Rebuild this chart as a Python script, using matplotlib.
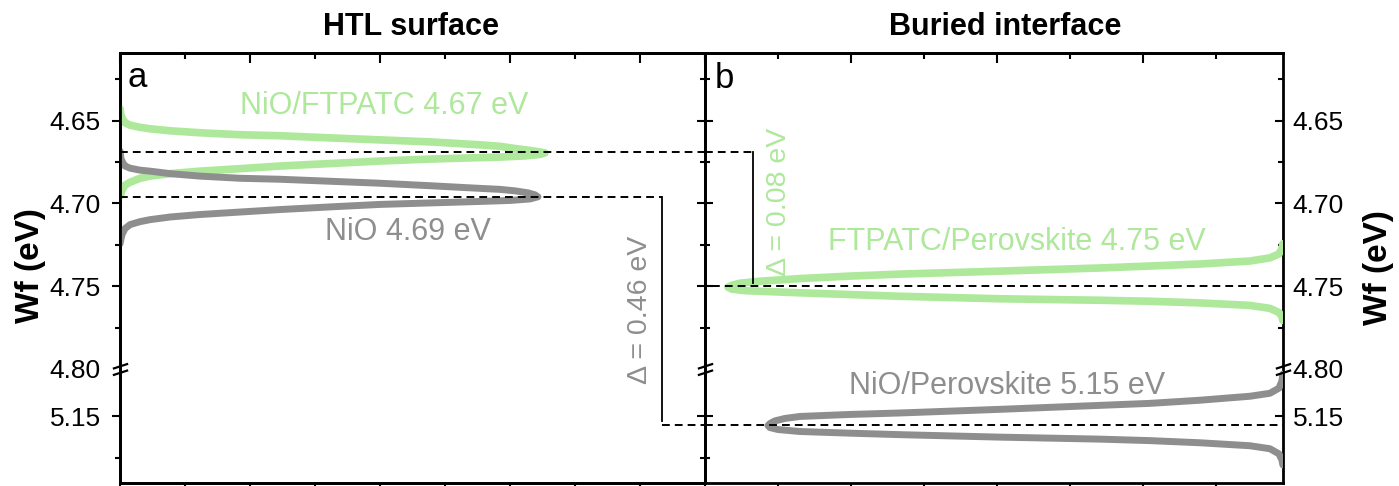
import numpy as np
import matplotlib
matplotlib.use("Agg")
import matplotlib.pyplot as plt
from matplotlib.path import Path
from matplotlib.ticker import FixedLocator, MultipleLocator, FormatStrFormatter
from matplotlib.transforms import blended_transform_factory

plt.rcParams["font.family"] = ["Liberation Sans", "DejaVu Sans"]

GREEN = "#aee89b"
GRAY = "#8e8e8e"

# --- HTL surface (panel a): sorted Wf maps, x = arbitrary count axis ---
htl_ftpatc_x = [0.000, 0.004, 0.008, 0.023, 0.038, 0.077, 0.154, 0.231, 0.385, 0.615,
                0.923, 1.231, 1.615, 2.000, 2.385, 2.769, 2.923, 3.038, 3.154, 3.231,
                3.269,
                3.231, 3.115, 2.923, 2.769, 2.385, 2.000, 1.615, 1.231, 0.923, 0.615,
                0.385, 0.231, 0.154, 0.077, 0.038, 0.015, 0.008, 0.000]
htl_ftpatc_wf = [4.6427, 4.6451, 4.6470, 4.6494, 4.6512, 4.6527, 4.6540, 4.6549, 4.6561, 4.6573,
                 4.6585, 4.6591, 4.6604, 4.6616, 4.6628, 4.6646, 4.6655, 4.6668, 4.6680, 4.6689,
                 4.6695,
                 4.6704, 4.6713, 4.6720, 4.6723, 4.6732, 4.6744, 4.6759, 4.6774, 4.6790, 4.6805,
                 4.6820, 4.6835, 4.6848, 4.6872, 4.6890, 4.6921, 4.6939, 4.6957]

htl_nio_x = [0.000, 0.004, 0.008, 0.023, 0.038, 0.077, 0.154, 0.231, 0.385, 0.615,
             0.923, 1.231, 1.615, 2.000, 2.385, 2.769, 2.923, 3.038, 3.138, 3.192,
             3.215,
             3.154, 3.000, 2.769, 2.385, 2.000, 1.615, 1.231, 0.923, 0.615, 0.385,
             0.231, 0.154, 0.077, 0.038, 0.015, 0.008, 0.000]
htl_nio_wf = [4.6683, 4.6713, 4.6732, 4.6756, 4.6774, 4.6787, 4.6799, 4.6805, 4.6820, 4.6835,
              4.6848, 4.6854, 4.6866, 4.6878, 4.6893, 4.6909, 4.6915, 4.6924, 4.6936, 4.6948,
              4.6960,
              4.6973, 4.6982, 4.6988, 4.6997, 4.7006, 4.7021, 4.7037, 4.7052, 4.7067, 4.7082,
              4.7098, 4.7110, 4.7128, 4.7152, 4.7189, 4.7213, 4.7244]

# --- Buried interface (panel b) ---
bur_ftpatc_x = [3.959, 3.952, 3.932, 3.870, 3.733, 3.390, 3.048, 2.705, 2.021, 1.336,
                0.993, 0.651, 0.377, 0.240, 0.185, 0.158,
                0.185, 0.274, 0.445, 0.651, 1.336, 2.021, 2.705, 3.048, 3.390, 3.733,
                3.870, 3.932, 3.952, 3.959]
bur_ftpatc_wf = [4.7244, 4.7274, 4.7305, 4.7329, 4.7348, 4.7366, 4.7378, 4.7390, 4.7409, 4.7427,
                 4.7439, 4.7454, 4.7470, 4.7482, 4.7494, 4.7506,
                 4.7518, 4.7527, 4.7533, 4.7540, 4.7561, 4.7576, 4.7585, 4.7591, 4.7601, 4.7616,
                 4.7634, 4.7659, 4.7683, 4.7707]

bur_nio_x = [3.959, 3.952, 3.932, 3.870, 3.733, 3.390, 3.048, 2.705, 2.021, 1.336,
             0.993, 0.651, 0.548, 0.479, 0.445, 0.432,
             0.445, 0.500, 0.651, 0.993, 1.336, 2.021, 2.705, 3.048, 3.390, 3.733,
             3.870, 3.932, 3.952, 3.959]
bur_nio_wf = [5.1244, 5.1287, 5.1329, 5.1360, 5.1378, 5.1402, 5.1421, 5.1433, 5.1457, 5.1479,
              5.1488, 5.1500, 5.1512, 5.1527, 5.1543, 5.1555,
              5.1567, 5.1579, 5.1591, 5.1601, 5.1610, 5.1625, 5.1637, 5.1646, 5.1659, 5.1677,
              5.1695, 5.1726, 5.1762, 5.1793]

# reference levels (peak positions)
lvl_htl_ftpatc = 4.669
lvl_htl_nio = 4.696
lvl_bur_ftpatc = 4.75
lvl_bur_nio = 5.155

yticks_major = [4.65, 4.70, 4.75, 4.80, 5.15]
yticks_minor = [4.625, 4.675, 4.725, 4.775, 5.175]

# broken y axis: 4.80 joins directly onto ~5.12
BREAK_LO, BREAK_HI = 4.80, 5.1213
GAP = BREAK_HI - BREAK_LO


def fwd(y):
    y = np.asarray(y, dtype=float)
    return np.where(y > BREAK_LO, y - GAP, y)


def inv(y):
    y = np.asarray(y, dtype=float)
    return np.where(y > BREAK_LO, y + GAP, y)


YLIM = (5.1902, 4.6091)

# two slanted strokes for the break mark
BREAK_PATH = Path([(-1, -0.75), (1, -0.1), (-1, 0.1), (1, 0.75)],
                  [Path.MOVETO, Path.LINETO, Path.MOVETO, Path.LINETO])

SPINE_LW = 2.0
DASH = dict(color="k", lw=1.4, ls=(0, (4, 2.6)), zorder=5)
CURVE = dict(solid_capstyle="round", solid_joinstyle="round", zorder=3)


def setup_y(ax, side, direction):
    ax.set_yscale("function", functions=(fwd, inv))
    ax.set_ylim(*YLIM)
    ax.yaxis.set_major_locator(FixedLocator(yticks_major))
    ax.yaxis.set_minor_locator(FixedLocator(yticks_minor))
    ax.yaxis.set_major_formatter(FormatStrFormatter("%.2f"))
    ax.tick_params(axis="y", which="both", direction=direction, width=1.5,
                   left=(side != "right"), right=(side != "left"),
                   labelleft=False, labelright=False, labelsize=19)
    ax.tick_params(axis="y", which="major", length=6)
    ax.tick_params(axis="y", which="minor", length=3.5)


def setup_x(ax, xmax):
    ax.set_xlim(0, xmax)
    ax.xaxis.set_major_locator(MultipleLocator(1))
    ax.xaxis.set_minor_locator(MultipleLocator(0.5))
    ax.tick_params(axis="x", which="both", direction="out", width=1.5,
                   top=False, labelbottom=False)
    ax.tick_params(axis="x", which="major", length=6)
    ax.tick_params(axis="x", which="minor", length=3.5)
    sec = ax.secondary_xaxis("top")
    sec.xaxis.set_major_locator(MultipleLocator(1))
    sec.xaxis.set_minor_locator(MultipleLocator(0.5))
    sec.tick_params(axis="x", which="both", direction="in", width=1.5, labeltop=False)
    sec.tick_params(axis="x", which="major", length=7)
    sec.tick_params(axis="x", which="minor", length=4)
    sec.spines["top"].set_linewidth(SPINE_LW)
    for s in ax.spines.values():
        s.set_linewidth(SPINE_LW)


def hide_break_tick(ax):
    t = ax.yaxis.get_major_ticks()[yticks_major.index(BREAK_LO)]
    t.tick1line.set_visible(False)
    t.tick2line.set_visible(False)


def break_mark(ax, xpos):
    tr = blended_transform_factory(ax.transAxes, ax.transData)
    ax.plot([xpos], [BREAK_LO], transform=tr, marker=BREAK_PATH, markersize=11,
            mfc="none", mec="k", mew=1.6, ls="none", clip_on=False, zorder=10)


fig = plt.figure(figsize=(13.99, 4.86), dpi=100)
ax1 = fig.add_axes([0.0858, 0.0062, 0.4181, 0.8848])
ax2 = fig.add_axes([0.5039, 0.0062, 0.4132, 0.8848])

# ---------------- panel a ----------------
setup_x(ax1, 4.5)
setup_y(ax1, "left", "out")
ax1.tick_params(axis="y", which="both", labelleft=True, pad=8)
ax1b = ax1.twinx()
setup_y(ax1b, "right", "in")
for s in ax1b.spines.values():
    s.set_linewidth(SPINE_LW)

ax1.plot(htl_ftpatc_x, htl_ftpatc_wf, color=GREEN, lw=5.5, **CURVE)
ax1.plot(htl_nio_x, htl_nio_wf, color=GRAY, lw=5, **CURVE)

bracket_x_htl = 4.17
ax1.plot([0, 4.5], [lvl_htl_ftpatc] * 2, **DASH)
ax1.plot([0, bracket_x_htl], [lvl_htl_nio] * 2, **DASH)
ax1.plot([bracket_x_htl, 4.5], [lvl_bur_nio] * 2, **DASH)
ax1.plot([bracket_x_htl] * 2, [lvl_htl_nio, lvl_bur_nio - 0.002], color="k", lw=1.3, zorder=5)

ax1.text(0.92, 4.6409, "NiO/FTPATC 4.67 eV", color=GREEN, fontsize=22, ha="left", va="center")
ax1.text(1.58, 4.717, "NiO 4.69 eV", color=GRAY, fontsize=22, ha="left", va="center")
ax1.text(4.0, 4.7643, "\u0394 = 0.46 eV", color=GRAY, fontsize=20.5, rotation=90,
         ha="center", va="center")
ax1.text(0.012, 0.944, "a", transform=ax1.transAxes, fontsize=25, ha="left", va="center")

# ---------------- panel b ----------------
setup_x(ax2, 3.96)
setup_y(ax2, "both", "in")
ax2.tick_params(axis="y", which="both", labelright=True, pad=7)

ax2.plot(bur_ftpatc_x, bur_ftpatc_wf, color=GREEN, lw=5.5, **CURVE)
ax2.plot(bur_nio_x, bur_nio_wf, color=GRAY, lw=5, **CURVE)

bracket_x_bur = 0.33
ax2.plot([0, bracket_x_bur], [lvl_htl_ftpatc] * 2, **DASH)
ax2.plot([bracket_x_bur] * 2, [lvl_htl_ftpatc, lvl_bur_ftpatc - 0.002], color="k", lw=1.3, zorder=5)
ax2.plot([0.05, 3.96], [lvl_bur_ftpatc] * 2, **DASH)
ax2.plot([0, 3.96], [lvl_bur_nio] * 2, **DASH)

ax2.text(0.84, 4.7232, "FTPATC/Perovskite 4.75 eV", color=GREEN, fontsize=22,
         ha="left", va="center")
ax2.text(0.99, 5.1317, "NiO/Perovskite 5.15 eV", color=GRAY, fontsize=22,
         ha="left", va="center")
ax2.text(0.51, 4.6988, "\u0394 = 0.08 eV", color=GREEN, fontsize=20.5, rotation=90,
         ha="center", va="center")
ax2.text(0.017, 0.94, "b", transform=ax2.transAxes, fontsize=25, ha="left", va="center")

for ax in (ax1, ax1b, ax2):
    hide_break_tick(ax)
break_mark(ax1, 0.0)
break_mark(ax2, 0.0)
break_mark(ax2, 1.0)

# titles and axis labels
fig.text(411 / 1399, 1 - 27 / 486, "HTL surface", fontsize=22, fontweight="bold",
         ha="center", va="center")
fig.text(1005 / 1399, 1 - 27 / 486, "Buried interface", fontsize=22, fontweight="bold",
         ha="center", va="center")
fig.text(30 / 1399, 1 - 266 / 486, "Wf (eV)", fontsize=24, fontweight="bold",
         rotation=90, ha="center", va="center")
fig.text(1378 / 1399, 1 - 268 / 486, "Wf (eV)", fontsize=24, fontweight="bold",
         rotation=90, ha="center", va="center")

fig.savefig("out.png", dpi=100)
